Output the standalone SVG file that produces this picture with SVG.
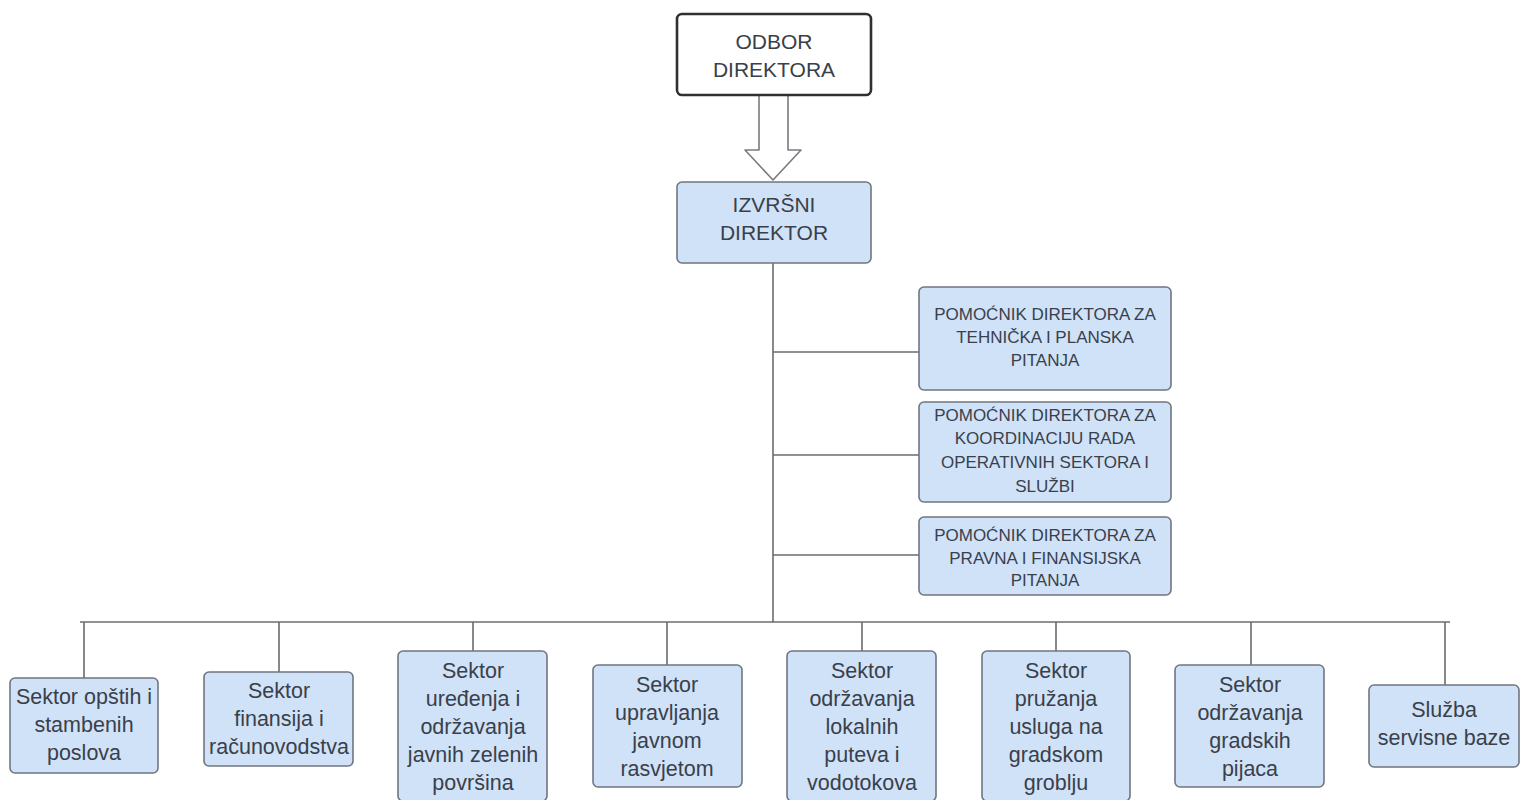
<svg xmlns="http://www.w3.org/2000/svg" width="1526" height="800" viewBox="0 0 1526 800">
<style>
.box{fill:#cfe2f8;stroke:#6f7680;stroke-width:1.6}
.top{fill:#ffffff;stroke:#2e3033;stroke-width:2.6}
.t{font-family:"Liberation Sans",Arial,sans-serif;fill:#3a404a;text-anchor:middle}
.big{font-size:21px}
.mid{font-size:21.5px}
.sm{font-size:17px}
.ln{stroke:#6c6c6c;stroke-width:1.6;fill:none}
</style>
<rect width="1526" height="800" fill="#ffffff"/>
<g id="connectors">
<path class="ln" d="M773 263 V622"/>
<path class="ln" d="M773 352 H919 M773 455 H919 M773 555 H919"/>
<path class="ln" d="M80 622 H1450"/>
<path class="ln" d="M84 622 V678 M279 622 V672 M473 622 V651 M667 622 V665 M862 622 V651 M1056 622 V651 M1251 622 V665 M1445 622 V685"/>
<path id="arrow" d="M759 95 H788 V150 H801 L773 180 L745 150 H759 Z" fill="#ffffff" stroke="#777b80" stroke-width="1.6" stroke-linejoin="round"/>
</g>
<g id="odbor">
<rect class="top" x="677" y="14" width="194" height="81" rx="5"/>
<text class="t big" x="774" y="49">ODBOR</text>
<text class="t big" x="774" y="77">DIREKTORA</text>
</g>
<g id="izvrsni">
<rect class="box" x="677" y="182" width="194" height="81" rx="5"/>
<text class="t big" x="774" y="212">IZVRŠNI</text>
<text class="t big" x="774" y="240">DIREKTOR</text>
</g>
<g id="pom1">
<rect class="box" x="919" y="287" width="252" height="103" rx="5"/>
<text class="t sm" x="1045" y="320">POMOĆNIK DIREKTORA ZA</text>
<text class="t sm" x="1045" y="343">TEHNIČKA I PLANSKA</text>
<text class="t sm" x="1045" y="366">PITANJA</text>
</g>
<g id="pom2">
<rect class="box" x="919" y="402" width="252" height="100" rx="5"/>
<text class="t sm" x="1045" y="421">POMOĆNIK DIREKTORA ZA</text>
<text class="t sm" x="1045" y="444">KOORDINACIJU RADA</text>
<text class="t sm" x="1045" y="468">OPERATIVNIH SEKTORA I</text>
<text class="t sm" x="1045" y="492">SLUŽBI</text>
</g>
<g id="pom3">
<rect class="box" x="919" y="517" width="252" height="78" rx="5"/>
<text class="t sm" x="1045" y="541">POMOĆNIK DIREKTORA ZA</text>
<text class="t sm" x="1045" y="564">PRAVNA I FINANSIJSKA</text>
<text class="t sm" x="1045" y="586">PITANJA</text>
</g>
<g id="s1">
<rect class="box" x="10" y="678" width="148" height="95" rx="5"/>
<text class="t mid" x="84" y="704">Sektor opštih i</text>
<text class="t mid" x="84" y="732">stambenih</text>
<text class="t mid" x="84" y="760">poslova</text>
</g>
<g id="s2">
<rect class="box" x="204" y="672" width="149" height="94" rx="5"/>
<text class="t mid" x="279" y="698">Sektor</text>
<text class="t mid" x="279" y="726">finansija i</text>
<text class="t mid" x="279" y="754">računovodstva</text>
</g>
<g id="s3">
<rect class="box" x="398" y="651" width="149" height="150" rx="5"/>
<text class="t mid" x="473" y="678">Sektor</text>
<text class="t mid" x="473" y="706">uređenja i</text>
<text class="t mid" x="473" y="734">održavanja</text>
<text class="t mid" x="473" y="762">javnih zelenih</text>
<text class="t mid" x="473" y="790">površina</text>
</g>
<g id="s4">
<rect class="box" x="593" y="665" width="149" height="122" rx="5"/>
<text class="t mid" x="667" y="692">Sektor</text>
<text class="t mid" x="667" y="720">upravljanja</text>
<text class="t mid" x="667" y="748">javnom</text>
<text class="t mid" x="667" y="776">rasvjetom</text>
</g>
<g id="s5">
<rect class="box" x="787" y="651" width="149" height="150" rx="5"/>
<text class="t mid" x="862" y="678">Sektor</text>
<text class="t mid" x="862" y="706">održavanja</text>
<text class="t mid" x="862" y="734">lokalnih</text>
<text class="t mid" x="862" y="762">puteva i</text>
<text class="t mid" x="862" y="790">vodotokova</text>
</g>
<g id="s6">
<rect class="box" x="982" y="651" width="148" height="150" rx="5"/>
<text class="t mid" x="1056" y="678">Sektor</text>
<text class="t mid" x="1056" y="706">pružanja</text>
<text class="t mid" x="1056" y="734">usluga na</text>
<text class="t mid" x="1056" y="762">gradskom</text>
<text class="t mid" x="1056" y="790">groblju</text>
</g>
<g id="s7">
<rect class="box" x="1175" y="665" width="149" height="122" rx="5"/>
<text class="t mid" x="1250" y="692">Sektor</text>
<text class="t mid" x="1250" y="720">održavanja</text>
<text class="t mid" x="1250" y="748">gradskih</text>
<text class="t mid" x="1250" y="776">pijaca</text>
</g>
<g id="s8">
<rect class="box" x="1369" y="685" width="150" height="82" rx="5"/>
<text class="t mid" x="1444" y="717">Služba</text>
<text class="t mid" x="1444" y="745">servisne baze</text>
</g>
</svg>
